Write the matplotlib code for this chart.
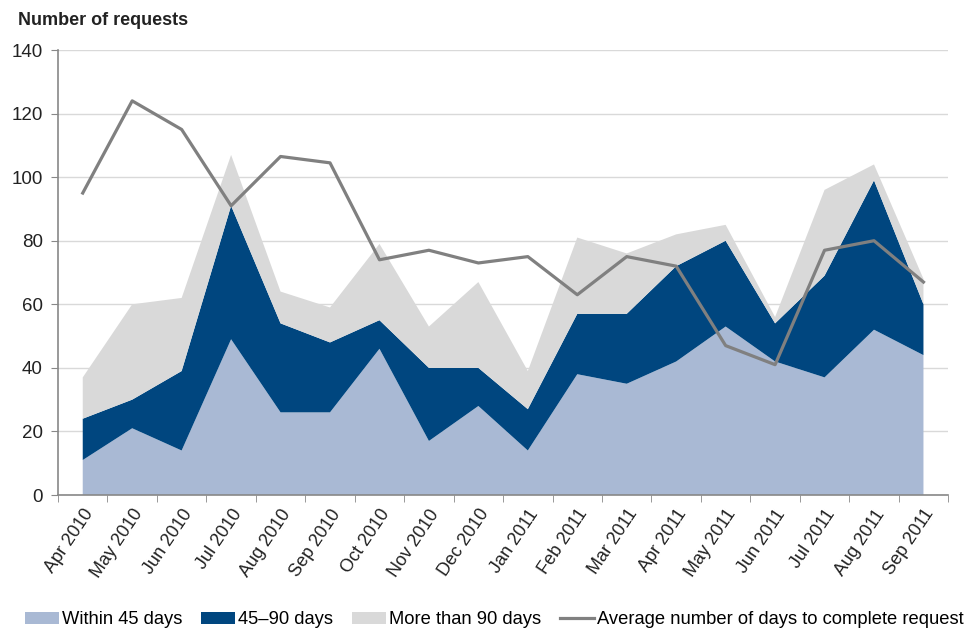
import numpy as np
import matplotlib.pyplot as plt

plt.rcParams['font.family'] = ['Liberation Sans', 'DejaVu Sans']

months = ['Apr 2010', 'May 2010', 'Jun 2010', 'Jul 2010', 'Aug 2010', 'Sep 2010',
          'Oct 2010', 'Nov 2010', 'Dec 2010', 'Jan 2011', 'Feb 2011', 'Mar 2011',
          'Apr 2011', 'May 2011', 'Jun 2011', 'Jul 2011', 'Aug 2011', 'Sep 2011']
within_45 = [11, 21, 14, 49, 26, 26, 46, 17, 28, 14, 38, 35, 42, 53, 42, 37, 52, 44]
days_45_90 = [13, 9, 25, 42, 28, 22, 9, 23, 12, 13, 19, 22, 30, 27, 12, 32, 47, 16]
over_90 = [13, 30, 23, 16, 10, 11, 24, 13, 27, 12, 24, 19, 10, 5, 2, 27, 5, 8]
avg_days = [95, 124, 115, 91, 106.5, 104.5, 74, 77, 73, 75, 63, 75, 72, 47, 41, 77, 80, 67]

c_light = '#A9B9D4'
c_dark = '#00467F'
c_grey = '#D9D9D9'
c_line = '#808080'

x = np.arange(len(months))

fig = plt.figure(figsize=(9.75, 6.33), dpi=100)
ax = fig.add_axes([0.0595, 0.218, 0.913, 0.703])

ax.stackplot(x, within_45, days_45_90, over_90,
             colors=[c_light, c_dark, c_grey],
             labels=['Within 45 days', '45\u201390 days', 'More than 90 days'],
             zorder=2)
ax.plot(x, avg_days, color=c_line, lw=2.3, zorder=3,
        label='Average number of days to complete request')

ax.set_xlim(-0.5, len(months) - 0.5)
ax.set_ylim(0, 140)
ax.set_yticks(range(0, 141, 20))
ax.grid(axis='y', color='#D9D9D9', lw=1, zorder=0)
ax.set_axisbelow(True)

ax.set_xticks(x)
ax.set_xticklabels(months, rotation=56, ha='right', va='top',
                   rotation_mode='anchor', fontsize=13, color='#222222')
ax.set_xticks(np.arange(-0.5, len(months)), minor=True)
ax.tick_params(axis='x', which='major', length=0, pad=8)
ax.tick_params(axis='x', which='minor', length=5, color='#888888', direction='out')
ax.tick_params(axis='y', length=5, color='#888888', labelsize=13.5,
               labelcolor='#222222', pad=6)

for s in ['top', 'right']:
    ax.spines[s].set_visible(False)
for s in ['left', 'bottom']:
    ax.spines[s].set_color('#888888')
    ax.spines[s].set_linewidth(1.2)

fig.text(0.018, 0.968, 'Number of requests', fontsize=13, fontweight='bold',
         color='#222222', va='center')

h, l = ax.get_legend_handles_labels()
fig.legend(h, l, ncol=4,
           loc='center', bbox_to_anchor=(0.507, 0.021), frameon=False,
           fontsize=13.2, handlelength=1.85, handleheight=0.6,
           handletextpad=0.2, columnspacing=1.0)

fig.savefig('out.png', dpi=100)
